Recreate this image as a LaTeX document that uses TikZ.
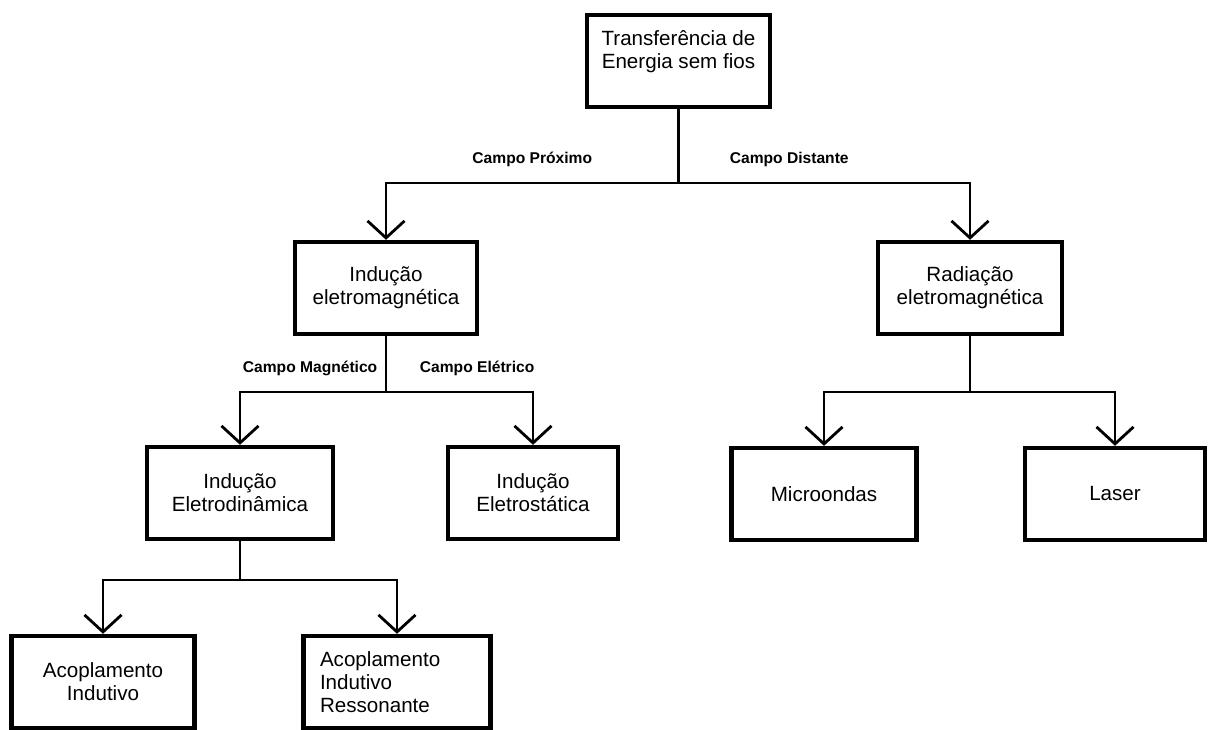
\documentclass[tikz,border=0pt]{standalone}
\usepackage{fontspec}
\setmainfont{Liberation Sans}
\usetikzlibrary{arrows.meta}

\newcommand{\blab}[1]{\fontsize{7.8}{9}\selectfont\bfseries #1}

\begin{document}
\begin{tikzpicture}[x=0.5pt,y=-0.5pt,
    every node/.style={font=\fontsize{10.3}{11.5}\selectfont},
    box/.style={rectangle,draw=black,line width=2.2pt,align=center,
                minimum height=46pt,inner sep=2pt},
    conn/.style={draw=black,line width=1.4pt},
    arr/.style={conn,-{Straight Barb[length=8.5pt,width=18.5pt,line width=1.4pt]}}]
 \useasboundingbox (0,0) rectangle (1213,729);

 \node[box,minimum width=91.5pt,text depth=12pt] (root) at (678.5,61)
      {Transferência de\\Energia sem fios};

 \node[box,minimum width=91pt] (indem) at (386,288) {Indução\\eletromagnética};
 \node[box,minimum width=92pt] (radem) at (970,288) {Radiação\\eletromagnética};

 \node[box,minimum width=93pt] (eldin) at (240,493) {Indução\\Eletrodinâmica};
 \node[box,minimum width=85pt] (elest) at (533,493) {Indução\\Eletrostática};
 \node[box,minimum width=92.5pt] (micro) at (824,494) {Microondas};
 \node[box,minimum width=90pt] (laser) at (1115,494) {Laser};

 \node[box,minimum width=91.5pt] (acind) at (103,682) {Acoplamento\\Indutivo};
 \node[box,minimum width=93.5pt,align=left,text width=77pt] (acres) at (397,682)
      {Acoplamento\\Indutivo\\Ressonante};

 % junctions
 \coordinate (j1) at (678.5,183);
 \coordinate (j2) at (386,392);
 \coordinate (j3) at (970,392);
 \coordinate (j4) at (240,580);

 \draw[conn] (root.south) -- (j1);
 \draw[arr] (j1) -| node[pos=0.25,above=4pt] {\blab{Campo Próximo}} (indem.north);
 \draw[arr] (j1) -| node[pos=0.19,above=4pt] {\blab{Campo Distante}} (radem.north);

 \draw[conn] (indem.south) -- (j2);
 \draw[arr] (j2) -| node[pos=0.26,above=4pt] {\blab{Campo Magnético}} (eldin.north);
 \draw[arr] (j2) -| node[pos=0.31,above=4pt] {\blab{Campo Elétrico}} (elest.north);

 \draw[conn] (radem.south) -- (j3);
 \draw[arr] (j3) -| (micro.north);
 \draw[arr] (j3) -| (laser.north);

 \draw[conn] (eldin.south) -- (j4);
 \draw[arr] (j4) -| (acind.north);
 \draw[arr] (j4) -| (acres.north);

\end{tikzpicture}
\end{document}
